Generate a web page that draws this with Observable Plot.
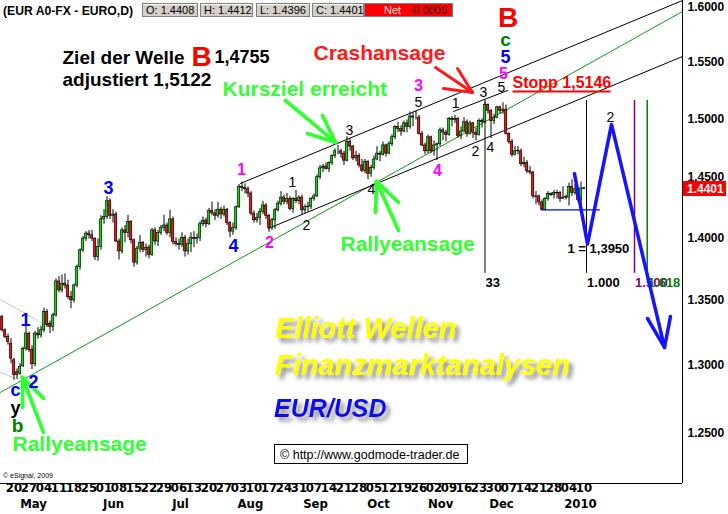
<!DOCTYPE html>
<html>
<head>
<meta charset="utf-8">
<title>EUR/USD Elliott Wellen</title>
<script src="https://cdn.jsdelivr.net/npm/d3@7"></script>
<script src="https://cdn.jsdelivr.net/npm/@observablehq/plot@0.6"></script>
<style>
  html, body { margin: 0; padding: 0; background: #fff; }
  #chart { position: relative; width: 728px; height: 514px; overflow: hidden; }
  #chart > svg { position: absolute; left: 0; top: 0; }
</style>
</head>
<body>
<div id="chart"></div>
<script>
// Daily EUR/USD bars, 14.04.2009 - 11.01.2010, bar index k = 0..194
const opens = [
  1.3370,1.3269,1.3218,1.3167,1.3040,1.2950,1.2940,1.2995,1.3125,1.3240,
  1.3120,1.3010,1.3244,1.3230,1.3269,1.3410,1.3318,1.3296,1.3384,1.3650,
  1.3579,1.3632,1.3618,1.3527,1.3501,1.3618,1.3764,1.3898,1.3993,1.4034,
  1.4020,1.3993,1.3844,1.3926,1.4150,1.4170,1.4300,1.4180,1.4190,1.3970,
  1.3890,1.4060,1.4040,1.4130,1.3980,1.3800,1.3912,1.3960,1.3900,1.3920,
  1.3860,1.4060,1.3970,1.4040,1.4080,1.4100,1.4040,1.4150,1.3966,1.3950,
  1.3940,1.4000,1.3890,1.3950,1.4000,1.3990,1.4000,1.4110,1.4140,1.4110,
  1.4220,1.4200,1.4180,1.4230,1.4190,1.4230,1.4120,1.4050,1.4080,1.4250,
  1.4420,1.4410,1.4400,1.4364,1.4198,1.4143,1.4160,1.4212,1.4265,1.4180,
  1.4080,1.4143,1.4225,1.4280,1.4330,1.4295,1.4320,1.4235,1.4320,1.4300,
  1.4330,1.4225,1.4250,1.4255,1.4320,1.4340,1.4500,1.4575,1.4590,1.4570,
  1.4620,1.4680,1.4720,1.4720,1.4700,1.4640,1.4800,1.4760,1.4660,1.4680,
  1.4600,1.4555,1.4630,1.4530,1.4580,1.4650,1.4700,1.4690,1.4770,1.4700,
  1.4780,1.4840,1.4930,1.4910,1.4890,1.4960,1.4930,1.5020,1.5010,1.5010,
  1.4870,1.4770,1.4720,1.4840,1.4720,1.4770,1.4780,1.4900,1.4880,1.4860,
  1.5000,1.4990,1.5000,1.4850,1.4890,1.4970,1.4870,1.4960,1.4880,1.4860,
  1.4980,1.4970,1.5120,1.5070,1.4980,1.5010,1.5100,1.5070,1.5080,1.4870,
  1.4800,1.4690,1.4720,1.4720,1.4610,1.4620,1.4550,1.4540,1.4340,1.4340,
  1.4290,1.4230,1.4320,1.4360,1.4350,1.4370,1.4370,1.4320,1.4330,1.4330,
  1.4420,1.4370,1.4400,1.4310,1.4408
];
const highs = [
  1.3385,1.3280,1.3240,1.3205,1.3055,1.2975,1.3015,1.3140,1.3300,1.3255,
  1.3150,1.3260,1.3290,1.3300,1.3440,1.3430,1.3340,1.3400,1.3670,1.3690,
  1.3700,1.3710,1.3660,1.3570,1.3630,1.3780,1.3910,1.4010,1.4050,1.4060,
  1.4061,1.4000,1.3990,1.4180,1.4230,1.4338,1.4320,1.4230,1.4210,1.3990,
  1.4080,1.4100,1.4184,1.4140,1.3990,1.3930,1.4020,1.3970,1.3950,1.3940,
  1.4075,1.4080,1.4060,1.4100,1.4184,1.4120,1.4225,1.4170,1.4000,1.3990,
  1.4040,1.4020,1.3990,1.4040,1.4050,1.4030,1.4130,1.4170,1.4160,1.4240,
  1.4294,1.4230,1.4290,1.4250,1.4260,1.4240,1.4130,1.4120,1.4260,1.4440,
  1.4460,1.4445,1.4420,1.4380,1.4220,1.4200,1.4240,1.4300,1.4280,1.4190,
  1.4160,1.4240,1.4300,1.4380,1.4350,1.4365,1.4340,1.4330,1.4390,1.4345,
  1.4350,1.4270,1.4290,1.4330,1.4360,1.4520,1.4600,1.4610,1.4620,1.4630,
  1.4690,1.4740,1.4770,1.4740,1.4720,1.4845,1.4830,1.4770,1.4720,1.4700,
  1.4650,1.4650,1.4640,1.4600,1.4680,1.4760,1.4720,1.4800,1.4780,1.4800,
  1.4860,1.4940,1.4970,1.4940,1.4980,1.4990,1.5060,1.5050,1.5065,1.5030,
  1.4890,1.4790,1.4860,1.4850,1.4810,1.4790,1.4920,1.4920,1.4900,1.5010,
  1.5020,1.5030,1.5010,1.4930,1.5010,1.4990,1.4980,1.4970,1.4920,1.5000,
  1.5000,1.5145,1.5130,1.5080,1.5040,1.5110,1.5110,1.5140,1.5120,1.4880,
  1.4820,1.4760,1.4760,1.4740,1.4670,1.4640,1.4590,1.4550,1.4380,1.4350,
  1.4310,1.4330,1.4380,1.4370,1.4390,1.4390,1.4380,1.4420,1.4350,1.4450,
  1.4480,1.4440,1.4410,1.4460,1.4412
];
const lows = [
  1.3255,1.3205,1.3155,1.3015,1.2890,1.2895,1.2925,1.2985,1.3110,1.3100,
  1.2970,1.2990,1.3200,1.3210,1.3250,1.3290,1.3244,1.3260,1.3370,1.3560,
  1.3560,1.3590,1.3510,1.3436,1.3480,1.3600,1.3740,1.3880,1.3970,1.3990,
  1.3970,1.3817,1.3810,1.3900,1.4110,1.4150,1.4150,1.4120,1.3960,1.3820,
  1.3870,1.3960,1.4000,1.3950,1.3764,1.3780,1.3880,1.3880,1.3844,1.3830,
  1.3850,1.3940,1.3930,1.4020,1.4050,1.4020,1.4000,1.3940,1.3930,1.3900,
  1.3920,1.3844,1.3860,1.3880,1.3920,1.3950,1.3970,1.4090,1.4080,1.4100,
  1.4180,1.4140,1.4160,1.4150,1.4170,1.4100,1.4001,1.4020,1.4060,1.4240,
  1.4380,1.4360,1.4330,1.4180,1.4120,1.4120,1.4100,1.4190,1.4150,1.4045,
  1.4060,1.4070,1.4210,1.4260,1.4270,1.4270,1.4220,1.4200,1.4280,1.4270,
  1.4190,1.4200,1.4210,1.4230,1.4300,1.4330,1.4480,1.4540,1.4560,1.4540,
  1.4600,1.4660,1.4690,1.4660,1.4600,1.4630,1.4720,1.4640,1.4630,1.4580,
  1.4540,1.4530,1.4480,1.4500,1.4560,1.4640,1.4630,1.4680,1.4670,1.4690,
  1.4760,1.4820,1.4880,1.4850,1.4880,1.4880,1.4910,1.4930,1.4990,1.4860,
  1.4760,1.4690,1.4700,1.4700,1.4680,1.4640,1.4760,1.4810,1.4800,1.4850,
  1.4930,1.4960,1.4830,1.4820,1.4880,1.4840,1.4860,1.4830,1.4810,1.4850,
  1.4920,1.4960,1.5040,1.4830,1.4950,1.5000,1.5040,1.5040,1.4860,1.4780,
  1.4670,1.4680,1.4690,1.4590,1.4580,1.4530,1.4520,1.4320,1.4270,1.4260,
  1.4220,1.4220,1.4300,1.4340,1.4320,1.4320,1.4290,1.4320,1.4310,1.4260,
  1.4340,1.4350,1.4290,1.4260,1.4396
];
const closes = [
  1.3269,1.3218,1.3179,1.3053,1.2928,1.2930,1.2990,1.3125,1.3245,1.3120,
  1.3010,1.3244,1.3230,1.3269,1.3410,1.3307,1.3296,1.3384,1.3650,1.3579,
  1.3632,1.3618,1.3527,1.3501,1.3618,1.3764,1.3898,1.3993,1.4034,1.4020,
  1.3993,1.3844,1.3926,1.4150,1.4170,1.4300,1.4180,1.4190,1.3970,1.3890,
  1.4060,1.4040,1.4130,1.3980,1.3800,1.3912,1.3960,1.3900,1.3920,1.3860,
  1.4060,1.3970,1.4040,1.4080,1.4100,1.4040,1.4150,1.3966,1.3950,1.3940,
  1.4000,1.3890,1.3950,1.4000,1.3990,1.4000,1.4110,1.4140,1.4110,1.4220,
  1.4200,1.4180,1.4230,1.4190,1.4230,1.4120,1.4050,1.4080,1.4250,1.4420,
  1.4410,1.4400,1.4364,1.4198,1.4143,1.4160,1.4212,1.4265,1.4180,1.4080,
  1.4143,1.4225,1.4280,1.4330,1.4295,1.4320,1.4235,1.4320,1.4300,1.4330,
  1.4225,1.4250,1.4255,1.4320,1.4340,1.4500,1.4575,1.4590,1.4570,1.4620,
  1.4680,1.4720,1.4720,1.4700,1.4640,1.4800,1.4760,1.4660,1.4680,1.4600,
  1.4555,1.4630,1.4530,1.4580,1.4650,1.4700,1.4690,1.4770,1.4700,1.4780,
  1.4840,1.4930,1.4910,1.4890,1.4960,1.4930,1.5020,1.5010,1.5010,1.4870,
  1.4770,1.4720,1.4840,1.4720,1.4770,1.4780,1.4900,1.4880,1.4860,1.5000,
  1.4990,1.5000,1.4850,1.4890,1.4970,1.4870,1.4960,1.4880,1.4860,1.4980,
  1.4970,1.5120,1.5070,1.4980,1.5010,1.5100,1.5070,1.5080,1.4870,1.4800,
  1.4690,1.4720,1.4725,1.4610,1.4620,1.4550,1.4540,1.4340,1.4335,1.4290,
  1.4230,1.4320,1.4360,1.4350,1.4370,1.4365,1.4320,1.4330,1.4335,1.4420,
  1.4370,1.4400,1.4310,1.4406,1.4401
];

// Time axis: Monday of each week (bar index) and month captions
const weekTicks = [4,9,14,19,24,29,34,39,44,49,54,59,64,69,74,79,84,89,94,99,
  104,109,114,119,124,129,134,139,144,149,154,159,164,169,174,179,184,189,194];
const weekLabels = ["20","27","04","11","18","25","01","08","15","22","29","06","13",
  "20","27","03","10","17","24","31","07","14","21","28","05","12","19","26","02",
  "09","16","23","30","07","14","21","28","04","10"];
const monthTicks = [10.5, 37.2, 59.5, 82.8, 104.5, 125.5, 146.2, 166.5, 192.8];
const monthLabels = ["May","Jun","Jul","Aug","Sep","Oct","Nov","Dec","2010"];
const priceTicks = [1.25, 1.30, 1.35, 1.40, 1.45, 1.50, 1.55, 1.60];

// Trend lines (bar index, price)
const upperChannel = [{k: 79.5, p: 1.4448}, {k: 226.83, p: 1.6065}];
const lowerChannel = [{k: 88.83, p: 1.4076}, {k: 226.83, p: 1.5552}];
const greenTrend   = [{k: -0.5, p: 1.2800}, {k: 226.83, p: 1.5963}];
const novChannel   = [{k: 150.5, p: 1.5064}, {k: 168.5, p: 1.5248}];
const oldChannelA  = [{k: -0.5, p: 1.3508}, {k: 11.83, p: 1.3345}];
const oldChannelB  = [{k: -0.5, p: 1.2949}, {k: 4.5, p: 1.2904}];

// Fibonacci time extensions from the 25.11. high
const fibTimes = [
  {k: 161.0, label: "33"}, {k: 194.83, label: "1.000"},
  {k: 210.83, label: "1.500"}, {k: 215.07, label: "1.618"}
];
const fibColors = ["#000000", "#000000", "#800080", "#008000"];
const fibTop = 1.5160, fibBottom = 1.3714, fibLabelPrice = 1.3642;

// Projected path: wave 1 down to target, wave 2 up, wave 3 down
const waveOneTarget = 1.3950;
const projection = [
  {k: 190.83, p: 1.4529}, {k: 195.17, p: waveOneTarget},
  {k: 203.17, p: 1.4951}, {k: 220.83, p: 1.3138}
];
const projectionHead = [{k: 215.17, p: 1.3360}, {k: 220.83, p: 1.3138}, {k: 222.83, p: 1.3376}];
const supportLine = [{k: 179.83, p: 1.4229}, {k: 199.17, p: 1.4229}];

// Signal arrows: tip, tail and two wing ends
const greenArrows = [
  {tip: [111.17, 1.4796], tail: [94.5, 1.5160], wings: [[106.83, 1.5029], [101.83, 1.4873]]},
  {tip: [124.83, 1.4465], tail: [132.17, 1.4060], wings: [[124.5, 1.4207], [132.17, 1.4290]]},
  {tip: [6.83, 1.2911], tail: [13.83, 1.2506], wings: [[6.83, 1.2689], [13.83, 1.2755]]}
];
const redArrows = [
  {tip: [156.83, 1.5231], tail: [144.5, 1.5453], wings: [[151.83, 1.5444], [147.17, 1.5266]]}
];

// Elliott wave counts
const blueCounts = [
  {k: 7.83, p: 1.3345, t: "1"}, {k: 10.5, p: 1.2874, t: "2"}, {k: 4.5, p: 1.2812, t: "c"},
  {k: 35.5, p: 1.4406, t: "3"}, {k: 77.17, p: 1.3930, t: "4"}, {k: 167.83, p: 1.5548, t: "5"}
];
const pinkCounts = [
  {k: 79.83, p: 1.4566, t: "1"}, {k: 89.17, p: 1.3962, t: "2"}, {k: 138.83, p: 1.5293, t: "3"},
  {k: 145.17, p: 1.4557, t: "4"}, {k: 167.17, p: 1.5399, t: "5"}
];
const blackCounts = [
  {k: 96.83, p: 1.4456, t: "1"}, {k: 101.5, p: 1.4100, t: "2"}, {k: 115.83, p: 1.4899, t: "3"},
  {k: 123.17, p: 1.4398, t: "4"}, {k: 138.83, p: 1.5143, t: "5"}, {k: 151.17, p: 1.5134, t: "1"},
  {k: 157.83, p: 1.4719, t: "2"}, {k: 160.5, p: 1.5231, t: "3"}, {k: 162.83, p: 1.4753, t: "4"},
  {k: 166.5, p: 1.5275, t: "5"}, {k: 202.83, p: 1.5012, t: "2"}
];

const FONT = "'Liberation Sans', Arial, Helvetica, sans-serif";
const NARROW = "'Liberation Sans Narrow', 'Arial Narrow', 'DejaVu Sans Condensed', 'Liberation Sans', sans-serif";
const UP = "#19d219", DOWN = "#e81818", SIGNAL = "#33ff33";
const xMax = 226.83, yMin = 1.2141, yMax = 1.6065;

const bars = closes.map((c, k) => ({k, o: opens[k], h: highs[k], l: lows[k], c}));
const last = bars[bars.length - 1];
const prev = bars[bars.length - 2];

function arrowSegments(arrows) {
  const segs = [];
  for (const a of arrows) {
    for (const from of [a.tail, ...a.wings]) {
      segs.push({x1: from[0], y1: from[1], x2: a.tip[0], y2: a.tip[1]});
    }
  }
  return segs;
}
const fmtDE = (v) => v.toFixed(4).replace(".", ",");

const plot = Plot.plot({
  width: 728,
  height: 514,
  marginTop: 0,
  marginRight: 46,
  marginBottom: 31,
  marginLeft: 0,
  x: {type: "linear", domain: [-0.5, xMax], axis: null},
  y: {type: "log", domain: [yMin, yMax], axis: null},
  color: {type: "identity"},
  style: {background: "white", fontFamily: FONT, overflow: "visible", maxWidth: "none"},
  marks: [
    // older falling channel (grey) and the trend lines
    Plot.line(oldChannelA, {x: "k", y: "p", stroke: "#c4c4c4", strokeWidth: 1}),
    Plot.line(oldChannelB, {x: "k", y: "p", stroke: "#c4c4c4", strokeWidth: 1}),
    Plot.line(greenTrend, {x: "k", y: "p", stroke: "#119911", strokeWidth: 1, clip: true}),
    Plot.line(upperChannel, {x: "k", y: "p", stroke: "#000", strokeWidth: 1, clip: true}),
    Plot.line(lowerChannel, {x: "k", y: "p", stroke: "#000", strokeWidth: 1, clip: true}),
    Plot.line(novChannel, {x: "k", y: "p", stroke: "#000", strokeWidth: 1}),

    // Fibonacci time lines
    Plot.ruleX(fibTimes, {x: "k", y1: fibTop, y2: fibBottom, stroke: (d, i) => fibColors[i], strokeWidth: (d, i) => i < 2 ? 1 : 1.5}),
    Plot.text(fibTimes, {x: (d) => d.k + 0.2, y: fibLabelPrice, text: "label", fill: (d, i) => fibColors[i],
      textAnchor: "start", fontSize: 13, fontWeight: "bold"}),

    // candles
    Plot.ruleX(bars, {x: "k", y1: "l", y2: "h", stroke: "#000", strokeWidth: 1}),
    Plot.rect(bars, {x1: (d) => d.k - 0.42, x2: (d) => d.k + 0.42, y1: "o", y2: "c",
      fill: (d) => d.c >= d.o ? UP : DOWN, stroke: "#000", strokeWidth: 0.6}),

    // support under the December low and projected wave path
    Plot.line(supportLine, {x: "k", y: "p", stroke: "#0000ff", strokeWidth: 1.3}),
    Plot.line(projection, {x: "k", y: "p", stroke: "#1414ff", strokeWidth: 3.5}),
    Plot.line(projectionHead, {x: "k", y: "p", stroke: "#1414ff", strokeWidth: 3.5}),

    // signal arrows
    Plot.link(arrowSegments(greenArrows), {x1: "x1", y1: "y1", x2: "x2", y2: "y2", stroke: SIGNAL, strokeWidth: 3.8, strokeLinecap: "round"}),
    Plot.link(arrowSegments(redArrows), {x1: "x1", y1: "y1", x2: "x2", y2: "y2", stroke: "#ff1a1a", strokeWidth: 3, strokeLinecap: "round"}),

    // frame: price axis line and time axis line
    Plot.ruleX([xMax], {stroke: "#000"}),
    Plot.ruleY([yMin], {stroke: "#000"}),

    // wave counts
    Plot.text(blueCounts, {x: "k", y: "p", text: "t", fill: "#0000ff", fontSize: 18, fontWeight: "bold"}),
    Plot.text(pinkCounts, {x: "k", y: "p", text: "t", fill: "#ff00ff", fontSize: 16, fontWeight: "bold"}),
    Plot.text(blackCounts, {x: "k", y: "p", text: "t", fill: "#000", fontSize: 14}),
    Plot.text([{k: 4.5, p: 1.2684}], {x: "k", y: "p", text: () => "y", fill: "#000", fontSize: 18, fontWeight: "bold"}),
    Plot.text([{k: 5.17, p: 1.2552}, {k: 167.83, p: 1.5702}], {x: "k", y: "p", text: (d, i) => i === 0 ? "b" : "c",
      fill: "#008000", fontSize: 19, fontWeight: "bold"}),
    Plot.text([{k: 168.67, p: 1.5905}], {x: "k", y: "p", text: () => "B", fill: "#ff0000", fontSize: 28, fontWeight: "bold"}),

    // commentary
    Plot.text([{k: 20.17, p: 1.5543}], {x: "k", y: "p", text: () => "Ziel der Welle", textAnchor: "start", fill: "#000", fontSize: 19, fontWeight: "bold"}),
    Plot.text([{k: 66.5, p: 1.5543}], {x: "k", y: "p", text: () => "B", fill: "#ff0000", fontSize: 28, fontWeight: "bold"}),
    Plot.text([{k: 70.83, p: 1.5543}], {x: "k", y: "p", text: () => "1,4755", textAnchor: "start", fill: "#000", fontSize: 18, fontWeight: "bold"}),
    Plot.text([{k: 20.17, p: 1.5346}], {x: "k", y: "p", text: () => "adjustiert 1,5122", textAnchor: "start", fill: "#000", fontSize: 19, fontWeight: "bold"}),
    Plot.text([{k: 103.83, p: 1.5584}], {x: "k", y: "p", text: () => "Crashansage", textAnchor: "start", fill: "#ff1a1a", fontSize: 21, fontWeight: "bold"}),
    Plot.text([{k: 73.5, p: 1.5262}], {x: "k", y: "p", text: () => "Kursziel erreicht", textAnchor: "start", fill: SIGNAL, fontSize: 21, fontWeight: "bold"}),
    Plot.text([{k: 112.83, p: 1.3950}, {k: 3.5, p: 1.2420}], {x: "k", y: "p", text: () => "Rallyeansage", textAnchor: "start", fill: SIGNAL, fontSize: 21, fontWeight: "bold"}),
    Plot.text([{k: 170.17, p: 1.5315}], {x: "k", y: "p", text: () => "Stopp 1,5146", textAnchor: "start", fill: "#ff0000", fontSize: 16, fontWeight: "bold"}),
    Plot.link([{x1: 170.17, x2: 202.83, y: 1.5240}], {x1: "x1", x2: "x2", y1: "y", y2: "y", stroke: "#ff0000", strokeWidth: 2}),
    Plot.text([{k: 188.5, p: 1.3914}], {x: "k", y: "p", text: () => "1 = " + fmtDE(waveOneTarget), textAnchor: "start", fill: "#000", fontSize: 13, fontWeight: "bold"}),

    // price axis labels (right) and time axis labels (bottom)
    Plot.text(priceTicks, {y: (d) => d, frameAnchor: "right", dx: 5, textAnchor: "start",
      text: (d) => d.toFixed(4), fontSize: 12, fontWeight: "bold", fill: "#000"}),
    Plot.text(weekTicks, {x: (d) => d, frameAnchor: "bottom", dy: 8, text: (d, i) => weekLabels[i],
      fontFamily: NARROW, fontSize: 13, fontWeight: "bold", fill: "#000"}),
    Plot.text(monthTicks, {x: (d) => d, frameAnchor: "bottom", dy: 24, text: (d, i) => monthLabels[i],
      fontFamily: NARROW, fontSize: 13, fontWeight: "bold", fill: "#000"})
  ]
});

const chart = document.getElementById("chart");
chart.append(plot);

// header, watermark, source notes and the last-price tag
const ns = "http://www.w3.org/2000/svg";
const deco = d3.select(chart).append("svg").attr("xmlns", ns)
  .attr("width", 728).attr("height", 514).style("pointer-events", "none").style("font-family", FONT);
const defs = deco.append("defs");
defs.append("filter").attr("id", "shade").attr("x", "-10%").attr("y", "-30%").attr("width", "130%").attr("height", "180%")
  .append("feDropShadow").attr("dx", 4).attr("dy", 4).attr("stdDeviation", 2)
  .attr("flood-color", "#666").attr("flood-opacity", 0.75);

const yTag = plot.scale("y").apply(last.c);
const xEdge = plot.scale("x").apply(xMax);
deco.append("rect").attr("x", xEdge + 1).attr("y", Math.round(yTag) - 8).attr("width", 43).attr("height", 15).attr("fill", "#ff0000");
deco.append("text").attr("x", xEdge + 5).attr("y", Math.round(yTag) + 4).attr("fill", "#ffffff")
  .attr("font-size", 12).attr("font-weight", "bold").text(last.c.toFixed(4));

deco.append("text").attr("x", 3).attr("y", 15).attr("font-size", 13.5).attr("font-weight", "bold")
  .attr("textLength", 130).attr("lengthAdjust", "spacingAndGlyphs").text("(EUR A0-FX - EURO,D)");

const quote = [
  {x: 142, w: 55, t: "O: " + last.o.toFixed(4)},
  {x: 200, w: 52, t: "H: " + last.h.toFixed(4)},
  {x: 256, w: 53, t: "L: " + last.l.toFixed(4)},
  {x: 312, w: 51, t: "C: " + last.c.toFixed(4)}
];
for (const q of quote) {
  deco.append("rect").attr("x", q.x + 0.5).attr("y", 3.5).attr("width", q.w).attr("height", 13)
    .attr("fill", "#d4d0c8").attr("stroke", "#808080");
  deco.append("line").attr("x1", q.x + 1).attr("y1", 4.5).attr("x2", q.x + q.w).attr("y2", 4.5).attr("stroke", "#fff");
  deco.append("text").attr("x", q.x + 4).attr("y", 14).attr("font-size", 11).attr("fill", "#000").text(q.t);
}
const net = last.c - prev.c;
deco.append("rect").attr("x", 364.5).attr("y", 3.5).attr("width", 88).attr("height", 13)
  .attr("fill", "#ff0000").attr("stroke", "#808080");
deco.append("text").attr("x", 384).attr("y", 14).attr("font-size", 11).attr("fill", "#ffe0e0").text("Net");
deco.append("text").attr("x", 447).attr("y", 14).attr("font-size", 11).attr("fill", "#400000")
  .attr("text-anchor", "end").text(net.toFixed(4));

deco.append("text").attr("x", 3).attr("y", 478).attr("font-size", 7).attr("fill", "#000").text("\u00a9 eSignal, 2009");

const mark = deco.append("g").attr("font-weight", "bold").attr("font-style", "italic").attr("filter", "url(#shade)");
mark.append("text").attr("x", 275).attr("y", 338).attr("font-size", 29).attr("fill", "#ffff00").text("Elliott Wellen");
mark.append("text").attr("x", 275).attr("y", 375).attr("font-size", 29).attr("fill", "#ffff00").text("Finanzmarktanalysen");
mark.append("text").attr("x", 274).attr("y", 417).attr("font-size", 25).attr("fill", "#1010ee").text("EUR/USD");

deco.append("rect").attr("x", 274.5).attr("y", 444.5).attr("width", 193).attr("height", 19)
  .attr("fill", "#fff").attr("stroke", "#000");
deco.append("text").attr("x", 280).attr("y", 459).attr("font-size", 12.5).attr("fill", "#000")
  .text("\u00a9 http://www.godmode-trader.de");
</script>
</body>
</html>
